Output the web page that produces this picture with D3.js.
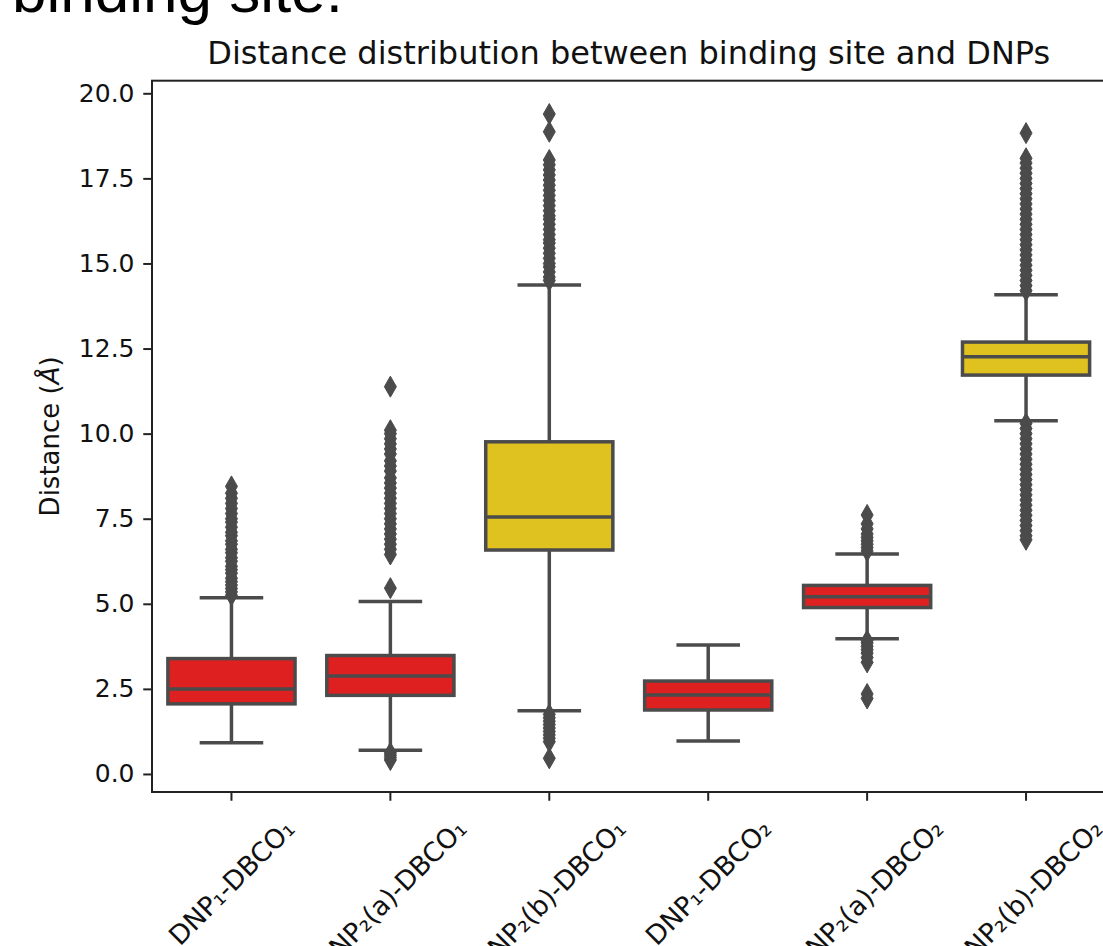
<!DOCTYPE html>
<html>
<head>
<meta charset="utf-8">
<script src="https://cdn.jsdelivr.net/npm/d3@7"></script>
<style>
  body { margin: 0; background: #fff; overflow: hidden; }
  svg { display: block; font-family: "DejaVu Sans", sans-serif; }
</style>
</head>
<body>
<div class="chartContainer"></div>
<script>
const categories = [
  "DNP₁-DBCO₁",
  "DNP₂(a)-DBCO₁",
  "DNP₂(b)-DBCO₁",
  "DNP₁-DBCO₂",
  "DNP₂(a)-DBCO₂",
  "DNP₂(b)-DBCO₂"
];
// which palette group each box belongs to
const groups = ["red", "red", "gold", "red", "red", "gold"];

const whiskerLow = [0.92, 0.70, 1.86, 0.97, 3.97, 10.38];
const q1 = [2.06, 2.31, 6.58, 1.88, 4.89, 11.72];
const median = [2.50, 2.88, 7.55, 2.32, 5.21, 12.26];
const q3 = [3.39, 3.48, 9.76, 2.73, 5.54, 12.69];
const whiskerHigh = [5.18, 5.07, 14.37, 3.79, 6.46, 14.08];

const outliers1 = [5.25, 5.35, 5.45, 5.55, 5.65, 5.75, 5.9, 6.0, 6.1, 6.25, 6.35, 6.5,
  6.6, 6.75, 6.85, 7.0, 7.1, 7.25, 7.4, 7.5, 7.65, 7.8, 7.95, 8.1, 8.25, 8.45];
const outliers2 = [0.41, 0.48, 0.55, 0.62, 5.46, 6.45, 6.6, 6.75, 6.9, 7.05, 7.2, 7.35,
  7.5, 7.65, 7.8, 7.95, 8.1, 8.25, 8.4, 8.55, 8.7, 8.9, 9.05, 9.2, 9.4, 9.55, 9.7,
  9.85, 10.0, 10.1, 11.38];
const outliers3 = [0.46, 0.95, 1.05, 1.15, 1.25, 1.35, 1.45, 1.55, 1.65, 1.75,
  14.5, 14.6, 14.75, 14.9, 15.0, 15.15, 15.3, 15.45, 15.6, 15.7, 15.85, 16.0, 16.15,
  16.3, 16.4, 16.55, 16.7, 16.85, 17.0, 17.15, 17.3, 17.45, 17.6, 17.75, 17.9, 18.04,
  18.87, 19.39];
const outliers4 = [];
const outliers5 = [2.22, 2.35, 3.28, 3.42, 3.55, 3.65, 3.75, 3.85, 3.92,
  6.55, 6.65, 6.75, 6.85, 6.95, 7.05, 7.2, 7.35, 7.61];
const outliers6 = [6.88, 7.0, 7.15, 7.3, 7.45, 7.6, 7.75, 7.9, 8.05, 8.2, 8.35, 8.5,
  8.65, 8.8, 8.95, 9.1, 9.25, 9.4, 9.55, 9.7, 9.85, 10.0, 10.15, 10.3,
  14.2, 14.35, 14.5, 14.65, 14.8, 14.95, 15.1, 15.25, 15.4, 15.55, 15.7, 15.85, 16.0,
  16.15, 16.3, 16.45, 16.6, 16.75, 16.9, 17.05, 17.2, 17.35, 17.5, 17.65, 17.8, 17.95,
  18.09, 18.83];
const outliers = [outliers1, outliers2, outliers3, outliers4, outliers5, outliers6];

const yTicks = [0, 2.5, 5, 7.5, 10, 12.5, 15, 17.5, 20];

const w = 1103;
const h = 946;
const plot = { left: 152, right: 1105.5, top: 80.7, bottom: 792 };
const edge = "#4b4b4b";
const fontSize = 25;
const xLabelSize = 26.5;

const dataset = categories.map((c, i) => ({
  name: c,
  group: groups[i],
  lo: whiskerLow[i],
  q1: q1[i],
  med: median[i],
  q3: q3[i],
  hi: whiskerHigh[i],
  fliers: outliers[i]
}));

const svg = d3
  .select(".chartContainer")
  .append("svg")
  .attr("width", w)
  .attr("height", h);

// text from the surrounding page, cut off at the top
svg
  .append("text")
  .attr("x", 12)
  .attr("y", 12)
  .style("font-family", "'Liberation Sans', Arial, sans-serif")
  .style("font-size", "62px")
  .attr("fill", "#000")
  .text("binding site.");

// scales
const xScale = d3
  .scaleBand()
  .domain(categories)
  .range([plot.left, plot.right])
  .padding(0);

const yScale = d3
  .scaleLinear()
  .domain([-0.53, 20.37])
  .range([plot.bottom, plot.top]);

const colorScale = d3
  .scaleOrdinal()
  .domain(["red", "gold"])
  .range(["#df2020", "#dfc120"]);

const boxW = xScale.bandwidth() * 0.8;
const capW = boxW / 2;
const cx = (d) => xScale(d.name) + xScale.bandwidth() / 2;

// y axis
const yAxis = d3
  .axisLeft(yScale)
  .tickValues(yTicks)
  .tickSize(8.75)
  .tickPadding(8.75)
  .tickFormat(d3.format(".1f"));

const yAxisHandle = svg
  .append("g")
  .attr("transform", "translate(" + plot.left + ",0)")
  .call(yAxis);
yAxisHandle.select(".domain").remove();
yAxisHandle.selectAll("line").attr("stroke", "#222").attr("stroke-width", 2);
yAxisHandle
  .selectAll("text")
  .style("font-size", fontSize + "px")
  .style("font-family", "'DejaVu Sans', sans-serif")
  .attr("fill", "#111");

// x axis ticks only, labels drawn rotated below
const xAxis = d3.axisBottom(xScale).tickSize(8.75).tickFormat("");
const xAxisHandle = svg
  .append("g")
  .attr("transform", "translate(0," + plot.bottom + ")")
  .call(xAxis);
xAxisHandle.select(".domain").remove();
xAxisHandle.selectAll("line").attr("stroke", "#222").attr("stroke-width", 2);

const labelTop = plot.bottom + 8.75 + 12;
svg
  .append("g")
  .selectAll("text")
  .data(categories)
  .enter()
  .append("text")
  .style("font-size", xLabelSize + "px")
  .attr("fill", "#111")
  .attr("text-anchor", "middle")
  .attr("dominant-baseline", "central")
  .text((d) => d)
  .attr("transform", function (d) {
    const len = this.getComputedTextLength();
    const half = (len + xLabelSize * 1.17) / (2 * Math.SQRT2);
    const x = xScale(d) + xScale.bandwidth() / 2;
    return "translate(" + x + "," + (labelTop + half) + ")rotate(-45)";
  });

// boxes
const boxes = svg.append("g").selectAll("g").data(dataset).enter().append("g");

boxes
  .append("line")
  .attr("x1", cx)
  .attr("x2", cx)
  .attr("y1", (d) => yScale(d.hi))
  .attr("y2", (d) => yScale(d.q3))
  .attr("stroke", edge)
  .attr("stroke-width", 3.5);

boxes
  .append("line")
  .attr("x1", cx)
  .attr("x2", cx)
  .attr("y1", (d) => yScale(d.q1))
  .attr("y2", (d) => yScale(d.lo))
  .attr("stroke", edge)
  .attr("stroke-width", 3.5);

boxes
  .selectAll(".cap")
  .data((d) => [d.lo, d.hi].map((v) => ({ d: d, v: v })))
  .enter()
  .append("line")
  .attr("class", "cap")
  .attr("x1", (p) => cx(p.d) - capW / 2)
  .attr("x2", (p) => cx(p.d) + capW / 2)
  .attr("y1", (p) => yScale(p.v))
  .attr("y2", (p) => yScale(p.v))
  .attr("stroke", edge)
  .attr("stroke-width", 3.5);

boxes
  .append("rect")
  .attr("x", (d) => cx(d) - boxW / 2)
  .attr("width", boxW)
  .attr("y", (d) => yScale(d.q3))
  .attr("height", (d) => yScale(d.q1) - yScale(d.q3))
  .attr("fill", (d) => colorScale(d.group))
  .attr("stroke", edge)
  .attr("stroke-width", 3.5);

boxes
  .append("line")
  .attr("x1", (d) => cx(d) - boxW / 2)
  .attr("x2", (d) => cx(d) + boxW / 2)
  .attr("y1", (d) => yScale(d.med))
  .attr("y2", (d) => yScale(d.med))
  .attr("stroke", edge)
  .attr("stroke-width", 3.5);

// outliers as thin diamonds
boxes
  .selectAll(".flier")
  .data((d) => d.fliers.map((v) => ({ d: d, v: v })))
  .enter()
  .append("path")
  .attr("class", "flier")
  .attr("d", "M0,-10.5L6,0L0,10.5L-6,0Z")
  .attr("transform", (p) => "translate(" + cx(p.d) + "," + yScale(p.v) + ")")
  .attr("fill", edge)
  .attr("stroke", edge)
  .attr("stroke-width", 1);

// spines
svg
  .append("rect")
  .attr("x", plot.left)
  .attr("y", plot.top)
  .attr("width", plot.right - plot.left)
  .attr("height", plot.bottom - plot.top)
  .attr("fill", "none")
  .attr("stroke", "#222")
  .attr("stroke-width", 2);

// title
svg
  .append("text")
  .attr("x", (plot.left + plot.right) / 2)
  .attr("y", 64)
  .attr("text-anchor", "middle")
  .style("font-size", "32px")
  .attr("fill", "#111")
  .text("Distance distribution between binding site and DNPs");

// y label
const yLabel = svg
  .append("text")
  .attr("transform", "translate(59," + (plot.top + plot.bottom) / 2 + ")rotate(-90)")
  .attr("text-anchor", "middle")
  .style("font-size", "26px")
  .attr("fill", "#111");
yLabel.append("tspan").text("Distance (");
yLabel.append("tspan").style("font-style", "italic").text("Å");
yLabel.append("tspan").text(")");
</script>
</body>
</html>
